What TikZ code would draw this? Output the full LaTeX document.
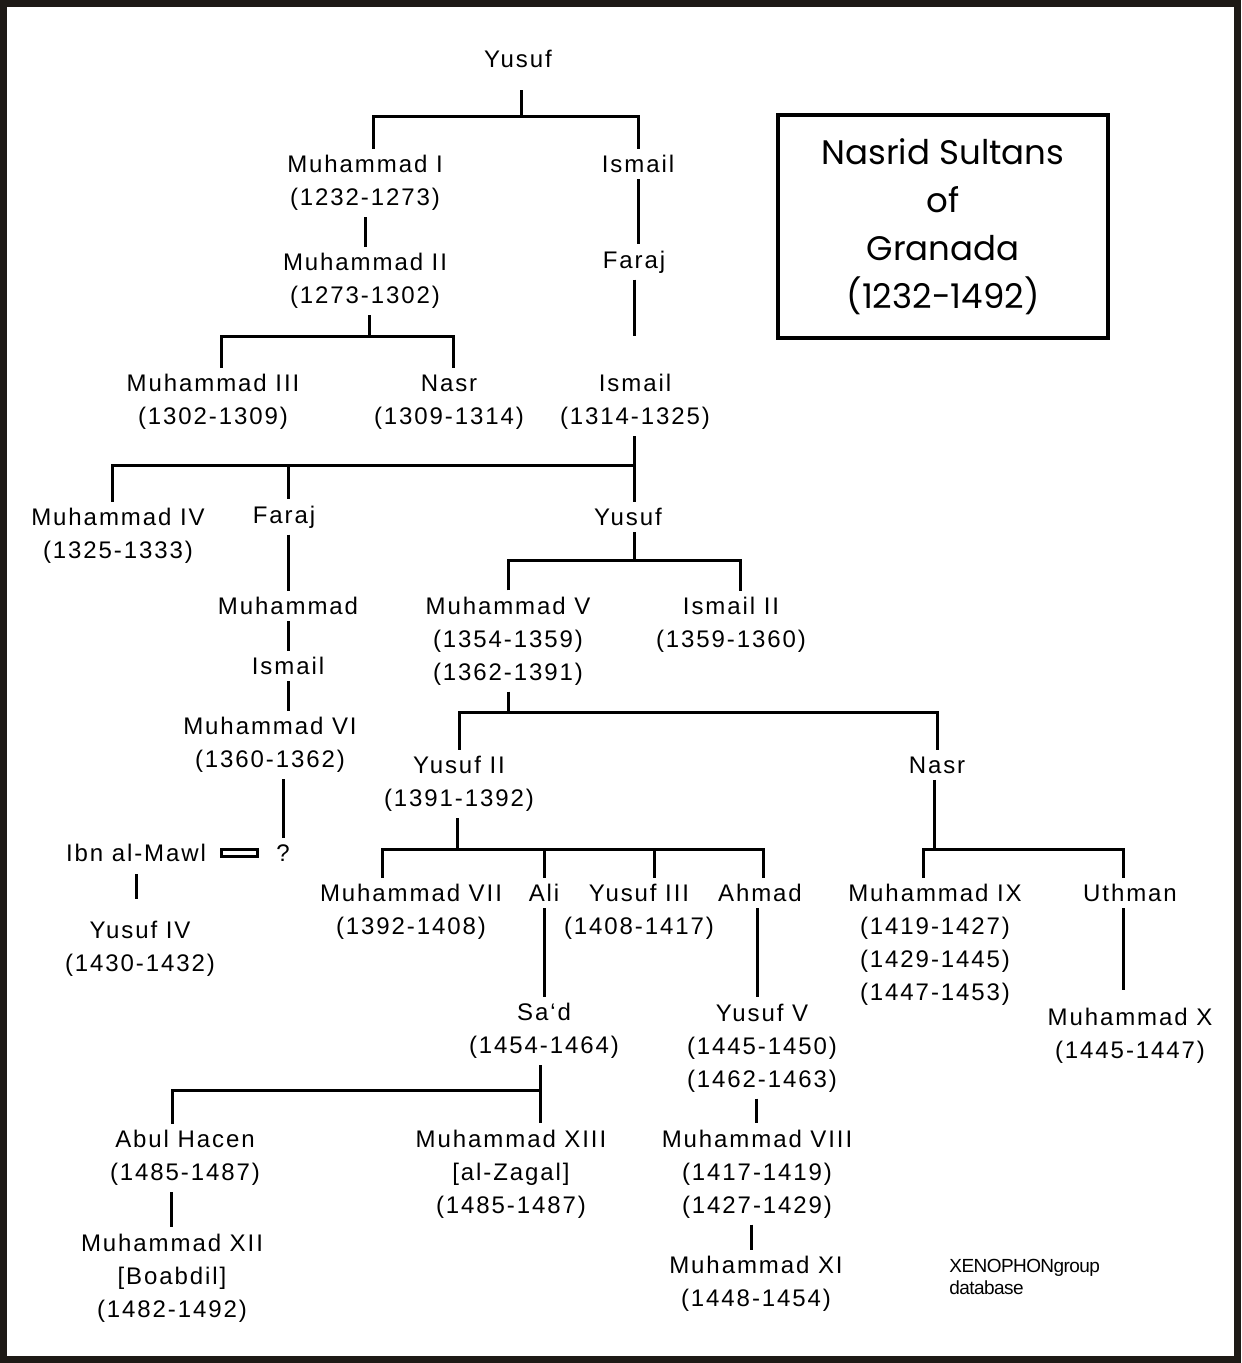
\documentclass[tikz,border=0pt]{standalone}
\usepackage{fontspec}
\setmainfont{Liberation Sans}[LetterSpace=8.0]
\newfontfamily\titlefont{Poppins}
\newfontfamily\notefont{Liberation Sans}[LetterSpace=-3.0]
\definecolor{frame}{RGB}{30,26,22}
\usetikzlibrary{positioning,calc}

\begin{document}
\begin{tikzpicture}[x=0.5pt,y=-0.5pt,
  every node/.style={align=center,inner sep=3pt,font=\fontsize{12}{16.5}\selectfont},
  line/.style={line width=1.5pt},
  titlebox/.style={draw,line width=2pt,minimum width=165pt,minimum height=111.5pt,
    font=\titlefont\fontsize{17}{24}\selectfont},
  marriage/.style={draw,line width=1.5pt,minimum width=18pt,minimum height=3.5pt,inner sep=0pt},
  note/.style={align=left,anchor=west,font=\notefont\fontsize{9.5}{11}\selectfont}
]
\useasboundingbox (0,0) rectangle (1241,1363);
\draw[frame,line width=3.5pt] (3.5,3.5) rectangle (1237.5,1359.5);

% Title
\node[titlebox] (title) at (943,226.5) {\raisebox{2pt}{\begin{tabular}{@{}c@{}}Nasrid Sultans\\of\\Granada\\(1232-1492)\end{tabular}}};
\node[note] (source) at (943,1277) {XENOPHONgroup\\database};

% Sultans
\node (yusufA) at (518,59) {Yusuf};
\node (muhI) at (365,183) {Muhammad I\\(1232-1273)};
\node (ismailA) at (638,164) {Ismail};
\node (muhII) at (365,281) {Muhammad II\\(1273-1302)};
\node (farajA) at (634,262) {Faraj};
\node (muhIII) at (213,402) {Muhammad III\\(1302-1309)};
\node (nasrA) at (449,402) {Nasr\\(1309-1314)};
\node (ismailB) at (635,402) {Ismail\\(1314-1325)};
\node (muhIV) at (118,536) {Muhammad IV\\(1325-1333)};
\node (farajB) at (284,517) {Faraj};
\node (yusufB) at (628,517) {Yusuf};
\node (muhA) at (288,606) {Muhammad};
\node (ismailC) at (288,666) {Ismail};
\node (muhVI) at (270,745) {Muhammad VI\\(1360-1362)};
\node (muhV) at (508,641) {Muhammad V\\(1354-1359)\\(1362-1391)};
\node (ismailII) at (731,625) {Ismail II\\(1359-1360)};
\node (yusufII) at (459,784) {Yusuf II\\(1391-1392)};
\node (nasrB) at (937,765) {Nasr};
\node (ibn) at (136,853) {Ibn al-Mawl};
\node[marriage] (wed) at (239,853) {};
\node (unknown) at (283,853) {?};
\node (yusufIV) at (140,949) {Yusuf IV\\(1430-1432)};
\node (muhVII) at (411,912) {Muhammad VII\\(1392-1408)};
\node (ali) at (544,893) {Ali};
\node (yusufIII) at (639,912) {Yusuf III\\(1408-1417)};
\node (ahmad) at (760,893) {Ahmad};
\node (muhIX) at (935,945) {Muhammad IX\\(1419-1427)\\(1429-1445)\\(1447-1453)};
\node (uthman) at (1130,893) {Uthman};
\node (sad) at (544,1031) {Sa‘d\\(1454-1464)};
\node (yusufV) at (762,1048) {Yusuf V\\(1445-1450)\\(1462-1463)};
\node (muhX) at (1130,1036) {Muhammad X\\(1445-1447)};
\node (abul) at (185,1158) {Abul Hacen\\(1485-1487)};
\node (muhXIII) at (511,1174) {Muhammad XIII\\{[al-Zagal]}\\(1485-1487)};
\node (muhVIII) at (757,1174) {Muhammad VIII\\(1417-1419)\\(1427-1429)};
\node (muhXII) at (172,1278) {Muhammad XII\\{[Boabdil]}\\(1482-1492)};
\node (muhXI) at (756,1284) {Muhammad XI\\(1448-1454)};

% Branch points
\coordinate (j1) at (521,117);
\coordinate (j2) at (369,337);
\coordinate (j3) at (634,465);
\coordinate (j4) at (634,560);
\coordinate (j5) at (508,712);
\coordinate (j6) at (457,849);
\coordinate (j7) at (934,849);
\coordinate (j8) at (540,1090);

% Lines
\begin{scope}[line]
\draw[shorten <=8pt] (j1 |- yusufA.south) -- (j1);
\draw ([xshift=4pt]muhI.north) |- (j1) -| (ismailA.north);
\draw (muhI.south) -- (muhII.north);
\draw (ismailA.south) -- (ismailA.south |- farajA.north);
\draw[shorten >=16pt] (farajA.south) -- (farajA.south |- ismailB.north);

\draw (j2 |- muhII.south) -- (j2);
\draw ([xshift=4pt]muhIII.north) |- (j2) -| ([xshift=2pt]nasrA.north);

\draw (j3 |- ismailB.south) -- (j3);
\draw ([xshift=-3pt]muhIV.north) |- (j3) -- (j3 |- yusufB.north);
\draw (muhA.north |- j3) -- (muhA.north |- farajB.north);
\draw (muhA.north |- farajB.south) -- (muhA.north);
\draw (muhA.south) -- (ismailC.north);
\draw (ismailC.south) -- (ismailC.south |- muhVI.north);
\draw (unknown.north |- muhVI.south) -- (unknown.north);
\draw[shorten <=3pt,shorten >=8pt] (ibn.south) -- (ibn.south |- yusufIV.north);

\draw (j4 |- yusufB.south) -- (j4);
\draw (muhV.north) |- (j4) -| ([xshift=4.5pt]ismailII.north);

\draw (j5 |- muhV.south) -- (j5);
\draw (yusufII.north) |- (j5) -| (nasrB.north);

\draw (j6 |- yusufII.south) -- (j6);
\draw ([xshift=-14.5pt]muhVII.north) |- (j6) -| ([xshift=1.5pt]ahmad.north);
\draw (ali.north |- j6) -- (ali.north);
\draw ([xshift=7.5pt]yusufIII.north |- j6) -- ([xshift=7.5pt]yusufIII.north);
\draw (ali.south) -- (ali.south |- sad.north);
\draw ([xshift=-1.5pt]ahmad.south) -- ([xshift=-1.5pt]ahmad.south |- yusufV.north);

\draw (j7 |- nasrB.south) -- (j7);
\draw ([xshift=-6pt]muhIX.north) |- (j7) -| ([xshift=-3.5pt]uthman.north);
\draw[shorten >=6pt] ([xshift=-3.5pt]uthman.south) -- ([xshift=-3.5pt]uthman.south |- muhX.north);

\draw (j8 |- sad.south) -- (j8 |- muhXIII.north);
\draw (j8) -| ([xshift=-6.5pt]abul.north);
\draw ([xshift=-7pt]abul.south) -- ([xshift=-7pt]abul.south |- muhXII.north);

\draw ([xshift=-3pt]yusufV.south) -- ([xshift=-3pt]yusufV.south |- muhVIII.north);
\draw ([xshift=-3pt]muhVIII.south) -- ([xshift=-3pt]muhVIII.south |- muhXI.north);
\end{scope}
\end{tikzpicture}
\end{document}
